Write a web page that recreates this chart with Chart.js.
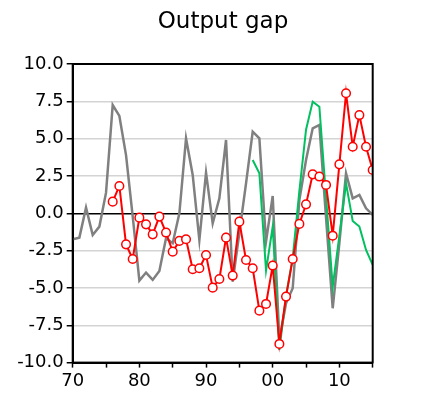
<!DOCTYPE html>
<html>
<head>
<meta charset="utf-8">
<script src="https://cdn.jsdelivr.net/npm/chart.js@4"></script>
<style>
  html, body { margin: 0; padding: 0; background: #ffffff; }
  #wrap { width: 446px; height: 399px; }
</style>
</head>
<body>
<div id="wrap"><canvas id="c" width="446" height="399"></canvas></div>
<script>
const title = "Output gap";
const yTicks = [-10, -7.5, -5, -2.5, 0, 2.5, 5, 7.5, 10];
const xLabelYears = [1970, 1980, 1990, 2000, 2010];

const grayYears = [1970,1971,1972,1973,1974,1975,1976,1977,1978,1979,1980,1981,1982,1983,1984,1985,1986,1987,1988,1989,1990,1991,1992,1993,1994,1995,1996,1997,1998,1999,2000,2001,2002,2003,2004,2005,2006,2007,2008,2009,2010,2011,2012,2013,2014,2015];
const grayValues = [-1.74,-1.63,0.38,-1.45,-0.89,1.38,7.25,6.52,3.9,-0.2,-4.51,-3.97,-4.46,-3.86,-1.67,-2.0,0.0,5.02,2.57,-1.79,2.72,-0.67,1.0,4.91,-4.58,-1.3,2.0,5.47,5.02,-1.9,1.16,-8.48,-6.03,-5.02,0.89,3.57,5.69,5.92,-0.3,-6.36,-2.0,2.68,1.0,1.23,0.33,-0.11];

const redYears = [1976,1977,1978,1979,1980,1981,1982,1983,1984,1985,1986,1987,1988,1989,1990,1991,1992,1993,1994,1995,1996,1997,1998,1999,2000,2001,2002,2003,2004,2005,2006,2007,2008,2009,2010,2011,2012,2013,2014,2015];
const redValues = [0.78,1.83,-2.08,-3.06,-0.29,-0.74,-1.41,-0.22,-1.29,-2.57,-1.85,-1.74,-3.75,-3.68,-2.79,-4.98,-4.4,-1.63,-4.17,-0.56,-3.13,-3.68,-6.52,-6.07,-3.5,-8.75,-5.58,-3.06,-0.71,0.6,2.61,2.46,1.9,-1.5,3.28,8.04,4.46,6.58,4.46,2.9];

const greenYears = [1997,1998,1999,2000,2001,2002,2003,2004,2005,2006,2007,2008,2009,2010,2011,2012,2013,2014,2015];
const greenValues = [3.57,2.68,-3.84,-0.89,-9.15,-5.5,-3.0,1.5,5.6,7.48,7.14,1.1,-4.91,-1.5,2.0,-0.51,-0.89,-2.46,-3.46];

const toXY = (xs, ys) => xs.map((x, i) => ({ x: x, y: ys[i] }));

const framePlugin = {
  id: 'frame',
  afterDatasetsDraw(chart) {
    const a = chart.chartArea;
    const ctx = chart.ctx;
    ctx.save();
    ctx.strokeStyle = '#000000';
    ctx.lineWidth = 2;
    ctx.strokeRect(a.left, a.top, a.right - a.left, a.bottom - a.top);
    ctx.restore();
  }
};

new Chart(document.getElementById('c'), {
  type: 'line',
  data: {
    datasets: [
      {
        label: 'red',
        data: toXY(redYears, redValues),
        borderColor: '#ff0000',
        borderWidth: 2,
        pointRadius: 4.3,
        pointBorderWidth: 1.5,
        pointBackgroundColor: '#ffffff',
        pointBorderColor: '#ff0000',
        tension: 0
      },
      {
        label: 'green',
        data: toXY(greenYears, greenValues),
        borderColor: '#00c060',
        borderWidth: 2,
        pointRadius: 0,
        tension: 0
      },
      {
        label: 'gray',
        data: toXY(grayYears, grayValues),
        borderColor: '#808080',
        borderWidth: 2.5,
        pointRadius: 0,
        tension: 0
      }
    ]
  },
  options: {
    responsive: false,
    animation: false,
    devicePixelRatio: 1,
    layout: { padding: { left: 0, right: 0, top: 0, bottom: 0 } },
    plugins: {
      legend: { display: false },
      tooltip: { enabled: false },
      title: {
        display: true,
        text: title,
        color: '#000000',
        font: { family: 'DejaVu Sans', size: 23, weight: 'normal' },
        padding: { top: 8, bottom: 28.4 }
      }
    },
    scales: {
      x: {
        type: 'linear',
        min: 1970,
        max: 2015,
        afterFit: (s) => { s.height = 36.4; },
        afterBuildTicks: (s) => {
          const t = [];
          for (let y = 1970; y <= 2015; y += 5) t.push({ value: y });
          s.ticks = t;
        },
        ticks: {
          autoSkip: false,
          maxRotation: 0,
          color: '#000000',
          padding: 3,
          font: { family: 'DejaVu Sans', size: 18 },
          callback: (v) => xLabelYears.includes(v) ? String(v % 100).padStart(2, '0') : ''
        },
        grid: {
          drawOnChartArea: false,
          drawTicks: true,
          tickLength: 5,
          tickColor: '#000000',
          tickWidth: 1.5
        },
        border: { display: true, color: '#000000', width: 2 }
      },
      y: {
        min: -10,
        max: 10,
        afterFit: (s) => { s.width = 72.7; },
        afterBuildTicks: (s) => { s.ticks = yTicks.map(v => ({ value: v })); },
        ticks: {
          color: '#000000',
          padding: 3,
          font: { family: 'DejaVu Sans', size: 18 },
          callback: (v) => Number(v).toFixed(1)
        },
        grid: {
          color: (ctx) => (ctx.tick && ctx.tick.value === 0) ? '#000000' : '#d4d4d4',
          lineWidth: 1.5,
          drawTicks: true,
          tickLength: 6,
          tickColor: '#000000',
          tickWidth: 1.5
        },
        border: { display: true, color: '#000000', width: 2 }
      },
      yRight: {
        position: 'right',
        min: -10,
        max: 10,
        afterFit: (s) => { s.width = 73.3; },
        ticks: { display: false },
        grid: { display: false, drawOnChartArea: false, drawTicks: false },
        border: { display: false }
      }
    }
  },
  plugins: [framePlugin]
});
</script>
</body>
</html>
